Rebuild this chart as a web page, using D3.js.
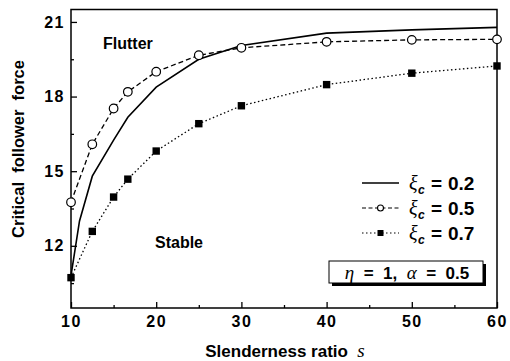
<!DOCTYPE html>
<html>
<head>
<meta charset="utf-8">
<script src="https://cdn.jsdelivr.net/npm/d3@7"></script>
<style>
  body { margin: 0; background: #fff; }
  svg text { font-family: "Liberation Sans", Arial, sans-serif; font-weight: bold; fill: #000; white-space: pre; }
  .greek { font-family: "Liberation Serif", "DejaVu Serif", serif; font-style: italic; font-weight: normal; }
</style>
</head>
<body>
<div id="chart"></div>
<script>
// Data
var sPoints = [10, 12.5, 15, 16.67, 20, 25, 30, 40, 50, 60];
var xi05 = [13.75, 16.08, 17.52, 18.19, 19.0, 19.66, 19.96, 20.2, 20.28, 20.3];
var xi07 = [10.72, 12.58, 13.96, 14.68, 15.81, 16.91, 17.63, 18.48, 18.94, 19.23];
var sLine = [10, 11, 12.5, 15, 16.67, 20, 25, 30, 40, 50, 60];
var xi02 = [10.8, 13.0, 14.8, 16.25, 17.17, 18.38, 19.5, 20.05, 20.55, 20.68, 20.78];
var xTicks = [10, 20, 30, 40, 50, 60];
var yTicks = [12, 15, 18, 21];

var width = 510, height = 361;
var margin = {top: 9.5, right: 13, bottom: 53, left: 71};

var svg = d3.select("#chart").append("svg")
  .attr("width", width)
  .attr("height", height);

var x = d3.scaleLinear().domain([10, 60]).range([margin.left, width - margin.right]);
var y = d3.scaleLinear().domain([9.5, 21.5]).range([height - margin.bottom, margin.top]);

// Frame
svg.append("rect")
  .attr("x", x(10)).attr("y", y(21.5))
  .attr("width", x(60) - x(10)).attr("height", y(9.5) - y(21.5))
  .attr("fill", "none").attr("stroke", "#000").attr("stroke-width", 1.5);

// Axes with inward ticks
var xAxis = svg.append("g")
  .attr("transform", "translate(0," + y(9.5) + ")")
  .call(d3.axisBottom(x).tickValues(xTicks).tickSize(-6).tickPadding(8));
var xMinor = svg.append("g")
  .attr("transform", "translate(0," + y(9.5) + ")")
  .call(d3.axisBottom(x).tickValues([15, 25, 35, 45, 55]).tickSize(-3).tickFormat(""));
var yAxis = svg.append("g")
  .attr("transform", "translate(" + x(10) + ",0)")
  .call(d3.axisLeft(y).tickValues(yTicks).tickSize(-6).tickPadding(6));
var yMinor = svg.append("g")
  .attr("transform", "translate(" + x(10) + ",0)")
  .call(d3.axisLeft(y).tickValues([10.5, 13.5, 16.5, 19.5]).tickSize(-3).tickFormat(""));

[xAxis, xMinor, yAxis, yMinor].forEach(function(g) {
  g.select(".domain").remove();
  g.selectAll("line").attr("stroke-width", 1.3);
  g.selectAll("text")
    .style("font-size", "16px")
    .style("letter-spacing", "1.5px")
    .style("font-family", "Liberation Sans, Arial, sans-serif")
    .style("font-weight", "bold");
});

// Lines
var line = d3.line().x(function(d) { return x(d[0]); }).y(function(d) { return y(d[1]); });

svg.append("path")
  .datum(d3.zip(sLine, xi02))
  .attr("d", line)
  .attr("fill", "none").attr("stroke", "#000").attr("stroke-width", 1.6);

svg.append("path")
  .datum(d3.zip(sPoints, xi05))
  .attr("d", line)
  .attr("fill", "none").attr("stroke", "#000").attr("stroke-width", 1.3)
  .attr("stroke-dasharray", "5,3");

svg.append("path")
  .datum(d3.zip(sPoints, xi07))
  .attr("d", line)
  .attr("fill", "none").attr("stroke", "#000").attr("stroke-width", 1.3)
  .attr("stroke-dasharray", "1.5,2.5");

// Markers
svg.selectAll(".circ")
  .data(d3.zip(sPoints, xi05))
  .enter().append("circle")
  .attr("cx", function(d) { return x(d[0]); })
  .attr("cy", function(d) { return y(d[1]); })
  .attr("r", 4.3)
  .attr("fill", "#fff").attr("stroke", "#000").attr("stroke-width", 1.2);

svg.selectAll(".sq")
  .data(d3.zip(sPoints, xi07))
  .enter().append("rect")
  .attr("x", function(d) { return x(d[0]) - 3.7; })
  .attr("y", function(d) { return y(d[1]) - 3.7; })
  .attr("width", 7.4).attr("height", 7.4)
  .attr("fill", "#000");

// Region labels
svg.append("text").attr("x", 103).attr("y", 49).style("font-size", "16px").text("Flutter");
svg.append("text").attr("x", 155).attr("y", 248).style("font-size", "16px").text("Stable");

// Axis titles
var xt = svg.append("text")
  .attr("x", 285).attr("y", 357)
  .attr("text-anchor", "middle")
  .style("font-size", "17px");
xt.append("tspan").text("Slenderness ratio  ");
xt.append("tspan").attr("class", "greek").style("font-size", "19px").text("s");

svg.append("text")
  .attr("transform", "translate(24,149) rotate(-90)")
  .attr("text-anchor", "middle")
  .style("font-size", "16.5px")
  .text("Critical  follower  force");

// Legend
var legendLabels = ["0.2", "0.5", "0.7"];
var legendDash = [null, "4,2.5", "1.5,2.5"];
var legend = svg.selectAll(".legend")
  .data(legendLabels)
  .enter().append("g")
  .attr("class", "legend")
  .attr("transform", function(d, i) { return "translate(0," + (183 + i * 25) + ")"; });

legend.append("line")
  .attr("x1", 362).attr("x2", 399).attr("y1", 0).attr("y2", 0)
  .attr("stroke", "#000")
  .attr("stroke-width", function(d, i) { return i === 0 ? 1.6 : 1.2; })
  .attr("stroke-dasharray", function(d, i) { return legendDash[i]; });

legend.filter(function(d, i) { return i === 1; }).append("circle")
  .attr("cx", 380.5).attr("cy", 0).attr("r", 3)
  .attr("fill", "#fff").attr("stroke", "#000").attr("stroke-width", 1.1);
legend.filter(function(d, i) { return i === 2; }).append("rect")
  .attr("x", 377.5).attr("y", -3).attr("width", 6).attr("height", 6)
  .attr("fill", "#000");

var lt = legend.append("text").attr("y", 6.5).style("font-size", "19px");
lt.append("tspan").attr("x", 409).attr("class", "greek").style("font-size", "20px").text("\u03BE");
lt.append("tspan").attr("x", 418).attr("dy", 4).style("font-size", "12px").style("font-style", "italic").text("c");
lt.append("tspan").attr("x", 431).attr("dy", -4).text("=");
lt.append("tspan").attr("x", 448).text(function(d) { return d; });

// Parameter box with shadow
svg.append("rect").attr("x", 332).attr("y", 264).attr("width", 154).attr("height", 22).attr("fill", "#000");
svg.append("rect").attr("x", 329).attr("y", 261).attr("width", 154).attr("height", 22)
  .attr("fill", "#fff").attr("stroke", "#000").attr("stroke-width", 1);
var bt = svg.append("text").attr("x", 407).attr("y", 278.5).attr("text-anchor", "middle").style("font-size", "17px");
bt.append("tspan").attr("class", "greek").style("font-size", "19px").text("\u03B7");
bt.append("tspan").text("  =  1,  ");
bt.append("tspan").attr("class", "greek").style("font-size", "19px").text("\u03B1");
bt.append("tspan").text("  =  0.5");
</script>
</body>
</html>
